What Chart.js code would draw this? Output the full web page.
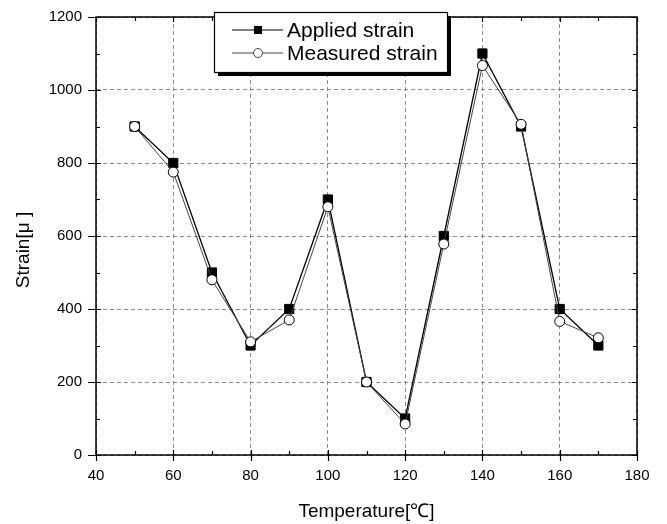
<!DOCTYPE html>
<html>
<head>
<meta charset="utf-8">
<script src="https://cdn.jsdelivr.net/npm/chart.js@4/dist/chart.umd.min.js"></script>
<style>
  html, body { margin: 0; padding: 0; background: #fff; }
  #wrap { width: 667px; height: 524px; }
</style>
</head>
<body>
<div id="wrap"><canvas id="chart" width="667" height="524"></canvas></div>
<script>
// data
const temperature    = [50, 60, 70, 80, 90, 100, 110, 120, 130, 140, 150, 160, 170];
const appliedStrain  = [900, 800, 500, 300, 400, 700, 200, 100, 600, 1100, 900, 400, 300];
const measuredStrain = [900, 775, 480, 310, 370, 680, 200, 85, 578, 1067, 906, 366, 321];

const xTicks = [40, 60, 80, 100, 120, 140, 160, 180];
const yTicks = [0, 200, 400, 600, 800, 1000, 1200];

const xTitle = 'Temperature[℃]';
const yTitle = 'Strain[μ ]';

const FONT = "'Liberation Sans', Arial, sans-serif";

const toPoints = (xs, ys) => xs.map((x, i) => ({ x: x, y: ys[i] }));

// frame, ticks (major out, minor in), y title and the boxed legend with a drop shadow
const framePlugin = {
    id: 'frame',
    beforeDatasetsDraw(chart) {
        const { ctx, chartArea: a, scales } = chart;
        const xs = scales.x, ys = scales.y;
        ctx.save();
        ctx.strokeStyle = '#000';
        ctx.lineWidth = 1.5;
        ctx.strokeRect(a.left, a.top, a.right - a.left, a.bottom - a.top);

        ctx.lineWidth = 1.2;
        ctx.beginPath();
        for (let v = xs.min; v <= xs.max; v += 10) {
            const px = Math.round(xs.getPixelForValue(v)) + 0.5;
            const major = v % 20 === 0;
            ctx.moveTo(px, a.bottom + (major ? 6 : 0));
            ctx.lineTo(px, a.bottom - (major ? 5 : 4));
            ctx.moveTo(px, a.top);
            ctx.lineTo(px, a.top + (major ? 5 : 4));
        }
        for (let v = ys.min; v <= ys.max; v += 100) {
            const py = Math.round(ys.getPixelForValue(v)) + 0.5;
            const major = v % 200 === 0;
            ctx.moveTo(a.left - (major ? 8 : 0), py);
            ctx.lineTo(a.left + (major ? 5 : 4), py);
            ctx.moveTo(a.right, py);
            ctx.lineTo(a.right - (major ? 5 : 4), py);
        }
        ctx.stroke();

        // y axis title, sits a little below the middle of the axis
        ctx.translate(a.left - 72, (a.top + a.bottom) / 2 + 14);
        ctx.rotate(-Math.PI / 2);
        ctx.fillStyle = '#000';
        ctx.font = '19px ' + FONT;
        ctx.textAlign = 'center';
        ctx.textBaseline = 'middle';
        ctx.fillText(yTitle, 0, 0);
        ctx.restore();
    },
    afterDraw(chart) {
        const { ctx, chartArea: a } = chart;
        const bx = a.left + 118, by = a.top - 5, bw = 233, bh = 60;
        ctx.save();
        ctx.fillStyle = '#000';
        ctx.fillRect(bx + 4, by + 4, bw, bh);
        ctx.fillStyle = '#fff';
        ctx.fillRect(bx, by, bw, bh);
        ctx.strokeStyle = '#000';
        ctx.lineWidth = 1.2;
        ctx.strokeRect(bx + 0.5, by + 0.5, bw, bh);

        ctx.font = '21px ' + FONT;
        ctx.textBaseline = 'middle';
        chart.data.datasets.forEach((ds, i) => {
            const cy = by + 18 + i * 23;
            const mx = bx + 44;
            ctx.strokeStyle = ds.borderColor;
            ctx.lineWidth = 1;
            ctx.beginPath();
            ctx.moveTo(bx + 18, cy);
            ctx.lineTo(bx + 69, cy);
            ctx.stroke();
            if (ds.pointStyle === 'rect') {
                ctx.fillStyle = '#000';
                ctx.fillRect(mx - 4, cy - 4, 8, 8);
            } else {
                ctx.fillStyle = '#fff';
                ctx.beginPath();
                ctx.arc(mx, cy, 4.5, 0, Math.PI * 2);
                ctx.fill();
                ctx.stroke();
            }
            ctx.fillStyle = '#000';
            ctx.fillText(ds.label, bx + 73, cy + 1);
        });
        ctx.restore();
    }
};

new Chart(document.getElementById('chart'), {
    type: 'scatter',
    data: {
        datasets: [
            {
                label: 'Applied strain',
                data: toPoints(temperature, appliedStrain),
                showLine: true,
                borderColor: '#000',
                borderWidth: 1.3,
                pointStyle: 'rect',
                pointRadius: 6.5,
                pointBackgroundColor: '#000',
                pointBorderColor: '#000',
                pointBorderWidth: 1,
                order: 1
            },
            {
                label: 'Measured strain',
                data: toPoints(temperature, measuredStrain),
                showLine: true,
                borderColor: '#444',
                borderWidth: 1,
                pointStyle: 'circle',
                pointRadius: 5,
                pointBackgroundColor: '#fff',
                pointBorderColor: '#000',
                pointBorderWidth: 1,
                order: 0
            }
        ]
    },
    options: {
        responsive: false,
        animation: false,
        layout: { padding: { left: 0, right: 30, top: 17, bottom: 0 } },
        plugins: {
            legend: { display: false },
            tooltip: { enabled: false }
        },
        scales: {
            x: {
                type: 'linear',
                min: 40,
                max: 180,
                afterBuildTicks: (s) => { s.ticks = xTicks.map(v => ({ value: v })); },
                afterFit: (s) => { s.height = 69; s.paddingLeft = 0; s.paddingRight = 0; },
                grid: { color: '#8a8a8a', lineWidth: 1, drawTicks: false },
                border: { display: false, dash: [4, 3] },
                ticks: { padding: 12, color: '#000', font: { family: FONT, size: 15 }, callback: (v) => String(v) },
                title: {
                    display: true,
                    text: xTitle,
                    color: '#000',
                    font: { family: FONT, size: 19 },
                    padding: { top: 0, bottom: 1 }
                }
            },
            y: {
                min: 0,
                max: 1200,
                afterBuildTicks: (s) => { s.ticks = yTicks.map(v => ({ value: v })); },
                afterFit: (s) => { s.width = 96; s.paddingTop = 0; s.paddingBottom = 0; },
                grid: { color: '#8a8a8a', lineWidth: 1, drawTicks: false },
                border: { display: false, dash: [4, 3] },
                ticks: { padding: 14, color: '#000', font: { family: FONT, size: 15 }, callback: (v) => String(v) },
                title: { display: false }
            }
        }
    },
    plugins: [framePlugin]
});
</script>
</body>
</html>
